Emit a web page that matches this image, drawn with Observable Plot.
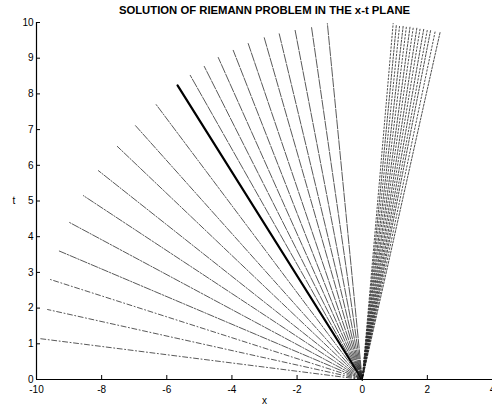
<!DOCTYPE html>
<html>
<head>
<meta charset="utf-8">
<script src="https://cdn.jsdelivr.net/npm/d3@7"></script>
<script src="https://cdn.jsdelivr.net/npm/@observablehq/plot@0.6"></script>
<style>
  html, body { margin: 0; padding: 0; background: #fff; }
  svg { font-family: "Liberation Sans", Arial, sans-serif; }
</style>
</head>
<body>
<div id="chart"></div>
<script>
const title = "SOLUTION OF RIEMANN PROBLEM IN THE x-t PLANE";
const xLabel = "x";
const yLabel = "t";
const xTicks = [-10, -8, -6, -4, -2, 0, 2, 4];
const yTicks = [0, 1, 2, 3, 4, 5, 6, 7, 8, 9, 10];

// Left fan: end points of rays from the origin
const leftEndX = [-9.94, -9.66, -9.57, -9.33, -8.99, -8.56, -8.10, -7.52, -6.96, -6.35, -5.67, -5.28, -4.85, -4.42, -3.96, -3.50, -3.01, -2.55, -2.06, -1.56, -1.07];
const leftEndT = [1.15, 1.96, 2.80, 3.61, 4.40, 5.15, 5.85, 6.53, 7.11, 7.73, 8.24, 8.52, 8.77, 9.02, 9.22, 9.41, 9.58, 9.69, 9.78, 9.89, 9.97];
const thickIndex = 10;

// Right fan: end points of dotted rays from the origin
const rightEndX = [0.95, 1.05, 1.15, 1.26, 1.36, 1.47, 1.57, 1.68, 1.78, 1.89, 2.00, 2.10, 2.24, 2.39];
const rightEndT = [9.97, 9.95, 9.93, 9.92, 9.91, 9.89, 9.88, 9.86, 9.84, 9.82, 9.80, 9.78, 9.75, 9.72];

const leftRays = leftEndX.map((x, i) => [{x: 0, t: 0}, {x, t: leftEndT[i]}]);
const rightRays = rightEndX.map((x, i) => [{x: 0, t: 0}, {x, t: rightEndT[i]}]);

const leftDash = i => i < 3 ? "5,2.5,1,2.5" : i < 10 ? "7,1.5,1.5,1.5" : "9,1.5";

const marks = [];
leftRays.forEach((ray, i) => {
  if (i === thickIndex) {
    marks.push(Plot.line(ray, {x: "x", y: "t", stroke: "#000", strokeWidth: 2.2}));
  } else {
    marks.push(Plot.line(ray, {x: "x", y: "t", stroke: "#222", strokeWidth: 0.75, strokeDasharray: leftDash(i)}));
  }
});
rightRays.forEach((ray, i) => {
  marks.push(Plot.line(ray, {x: "x", y: "t", stroke: "#222", strokeWidth: 0.8, strokeDasharray: i % 2 ? "2,1.5" : "1.5,2"}));
});

const plot = Plot.plot({
  width: 492,
  height: 407,
  marginLeft: 36,
  marginRight: 0,
  marginTop: 22,
  marginBottom: 28,
  style: {fontFamily: "'Liberation Sans', Arial, sans-serif", fontSize: "10px", background: "#fff", overflow: "hidden"},
  x: {domain: [-10, 4]},
  y: {domain: [0, 10]},
  marks: [
    ...marks,
    Plot.ruleX([-10], {stroke: "#000", strokeWidth: 1.2}),
    Plot.ruleY([0], {stroke: "#000", strokeWidth: 1.2}),
    Plot.tickY(yTicks, {y: d => d, stroke: "#000", insetRight: 452}),
    Plot.tickX(xTicks, {x: d => d, stroke: "#000", insetTop: 353}),
    Plot.axisY(yTicks, {anchor: "left", tickSize: 0, tickPadding: 3, fontSize: 10, label: null}),
    Plot.axisX(xTicks, {anchor: "bottom", tickSize: 0, tickPadding: 6, fontSize: 10, label: null, tickFormat: d => d < 0 ? "-" + Math.abs(d) : String(d)}),
    Plot.text([title], {frameAnchor: "top", dy: -12, lineAnchor: "middle", fontSize: 11.3, fontWeight: "bold", fill: "#000"}),
    Plot.text([yLabel], {frameAnchor: "left", dx: -24, lineAnchor: "middle", fontSize: 10, fill: "#000"}),
    Plot.text([xLabel], {frameAnchor: "bottom", dy: 21, lineAnchor: "middle", fontSize: 10, fill: "#000"})
  ]
});
document.getElementById("chart").appendChild(plot);
</script>
</body>
</html>
